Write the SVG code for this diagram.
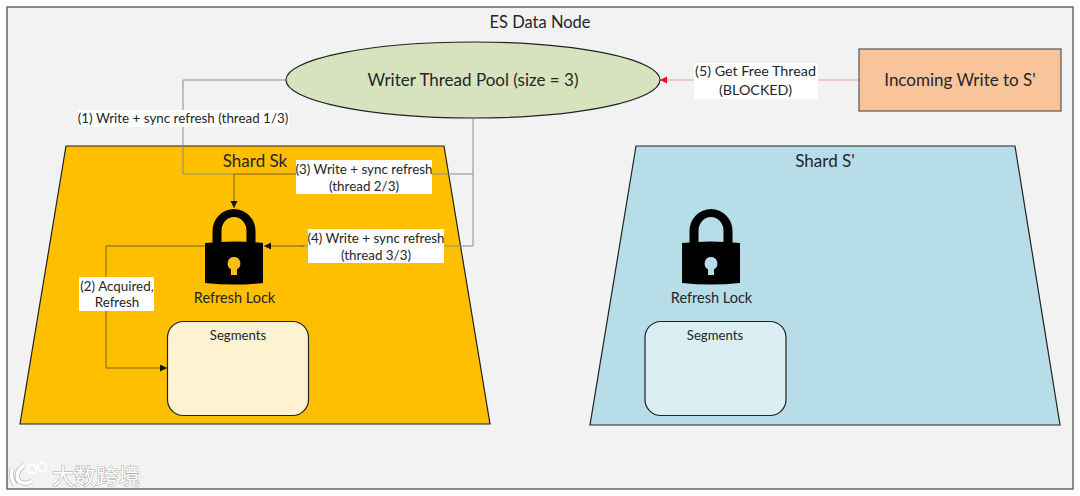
<svg xmlns="http://www.w3.org/2000/svg" width="1080" height="496" viewBox="0 0 1080 496">
<style>
text{font-family:"Lato","Carlito","Liberation Sans",sans-serif;fill:#262626;text-anchor:middle;font-size:13.400px}
.big{font-size:17px}
.ttl{font-size:16.500px}
.rl{font-size:14.500px}
.sg{font-size:13.200px}
.five{font-size:14.300px}
.line{fill:none;stroke:#8a8a8a;stroke-width:1}
.dark{fill:none;stroke:#7a6320;stroke-width:1}
.lab{fill:#fff}
.edge{stroke:#222;stroke-width:1.200}
.seg{stroke:#222;stroke-width:1.200}
</style>
<defs>
<marker id="ah" markerWidth="8" markerHeight="8" refX="7" refY="3.500" orient="auto" markerUnits="userSpaceOnUse"><path d="M0,0L7,3.500L0,7z" fill="#111"/></marker>
<marker id="ar" markerWidth="8" markerHeight="8" refX="7" refY="3.500" orient="auto" markerUnits="userSpaceOnUse"><path d="M0,0L7,3.500L0,7z" fill="#e8101c"/></marker>
<g id="lockShape">
<path d="M212.500,244V231A21.500,22 0 0 1 255.500,231V244H246.500V231A12.500,14 0 0 0 221.500,231V244Z" fill="#000"/>
<path d="M205,243Q234,240 263,243V283Q234,286 205,283Z" fill="#000"/>
</g>
</defs>
<rect width="1080" height="496" fill="#fff"/>
<rect id="frame" x="7" y="7" width="1066" height="482" fill="#f2f2f2" stroke="#666" stroke-width="1.500"/>
<text x="540" y="28" class="ttl">ES Data Node</text>

<g id="shard-sk">
<polygon points="66,146 444,146 490,424 20,424" fill="#fdbf00" class="edge"/>
<text x="255" y="167" class="big">Shard Sk</text>
</g>
<g id="shard-s">
<polygon points="636,146 1015,146 1060,425 590,425" fill="#b6dde8" class="edge"/>
<text x="825" y="167" class="big">Shard S'</text>
</g>

<g id="connectors">
<path class="line" d="M286,80H183V174H234"/>
<path class="line" d="M473,118V246H300"/>
<path class="line" d="M473,174H300"/>
<path class="dark" d="M234,174V208" marker-end="url(#ah)"/>
<path class="dark" d="M300,174H234"/>
<path class="dark" d="M304,246H264" marker-end="url(#ah)"/>
<path class="dark" d="M205,246H106V368H167" marker-end="url(#ah)"/>
<path d="M859,80H660" fill="none" stroke="#f0a0a0" stroke-width="1" marker-end="url(#ar)"/>
</g>

<g id="pool">
<ellipse cx="473" cy="80" rx="187" ry="38" fill="#d7e3bf" class="edge"/>
<text x="473" y="85.500" class="big">Writer Thread Pool (size = 3)</text>
</g>
<g id="incoming">
<rect x="859" y="49" width="202" height="62" fill="#f9c49a" stroke="#555" stroke-width="1.200"/>
<text x="960" y="86" class="big">Incoming Write to S'</text>
</g>

<g id="lock-sk">
<use href="#lockShape"/>
<path d="M234,257a6.500,6.500 0 0 1 3,12.200V275h-6V269.200A6.500,6.500 0 0 1 234,257Z" fill="#fdc011"/>
<text x="234.500" y="303" class="rl">Refresh Lock</text>
</g>
<g id="lock-s">
<use href="#lockShape" x="477"/>
<path d="M711,257a6.500,6.500 0 0 1 3,12.200V275h-6V269.200A6.500,6.500 0 0 1 711,257Z" fill="#b6dde8"/>
<text x="711.500" y="303" class="rl">Refresh Lock</text>
</g>

<g id="segments-sk">
<rect x="167.500" y="321.500" width="141" height="94" rx="16" fill="#fef2d0" class="seg"/>
<text x="238" y="340" class="sg">Segments</text>
</g>
<g id="segments-s">
<rect x="645" y="321.500" width="141" height="94" rx="16" fill="#dbeef4" class="seg"/>
<text x="715" y="340" class="sg">Segments</text>
</g>

<g id="labels">
<rect class="lab" x="78" y="110" width="211" height="17"/>
<text x="183" y="123">(1) Write + sync refresh (thread 1/3)</text>
<rect class="lab" x="296" y="160" width="136" height="34"/>
<text x="364" y="173.500">(3) Write + sync refresh</text>
<text x="364" y="190.500">(thread 2/3)</text>
<rect class="lab" x="308" y="229" width="136" height="34"/>
<text x="376" y="242.500">(4) Write + sync refresh</text>
<text x="376" y="259.500">(thread 3/3)</text>
<rect class="lab" x="79" y="277" width="75" height="34"/>
<text x="117" y="290.500">(2) Acquired,</text>
<text x="117" y="306.500">Refresh</text>
<rect class="lab" x="694" y="63" width="124" height="36"/>
<text x="755.500" y="76" class="five">(5) Get Free Thread</text>
<text x="755.500" y="94.500" class="five">(BLOCKED)</text>
</g>

<g id="watermark">
<path d="M12,469Q10,478 15,485" fill="none" stroke="#b5b5b5" stroke-width="5"/>
<path d="M24,465Q15,472 18,480Q24,486 32,481" fill="none" stroke="#b5b5b5" stroke-width="5"/>
<path d="M12,469Q10,478 15,485" fill="none" stroke="#fff" stroke-width="3.500"/>
<path d="M24,465Q15,472 18,480Q24,486 32,481" fill="none" stroke="#fff" stroke-width="3.500"/>
<circle cx="32" cy="469" r="4.500" fill="none" stroke="#fff" stroke-width="1.800"/>
<circle cx="42" cy="467" r="4.500" fill="none" stroke="#fff" stroke-width="1.800"/>
<text x="96" y="484" style="font-family:'Noto Sans CJK SC',sans-serif;font-size:22px;fill:#fff;stroke:#a8a8a8;stroke-width:1;paint-order:stroke">大数跨境</text>
</g>
</svg>
